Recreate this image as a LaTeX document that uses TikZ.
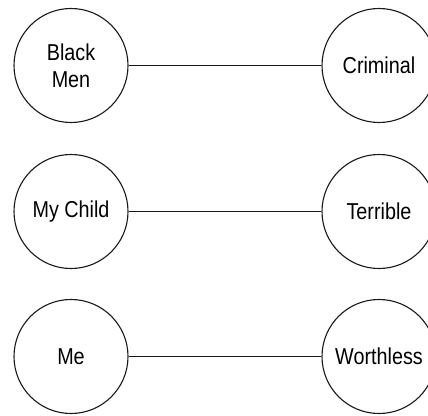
\documentclass[tikz,border=0pt]{standalone}
\usepackage{fontspec}
\setmainfont{Liberation Sans}[FakeStretch=0.86]
\begin{document}
\begin{tikzpicture}[x=1pt,y=-1pt,
  concept/.style={draw=black!90, line width=1.1pt, circle, minimum size=114pt, inner sep=0pt, align=center, font=\fontsize{23}{27}\selectfont, text=black},
  link/.style={draw=black!90, line width=1.1pt}]
\useasboundingbox (0,0) rectangle (428,415);
\node[concept] (bm) at (71,65.5) {Black\\Men};
\node[concept] (cr) at (379,65.5) {Criminal};
\node[concept] (mc) at (71,211.5) {My Child};
\node[concept] (te) at (379,211.5) {Terrible};
\node[concept] (me) at (71,356.5) {Me};
\node[concept] (wo) at (379,356.5) {Worthless};
\draw[link] (bm) -- (cr);
\draw[link] (mc) -- (te);
\draw[link] (me) -- (wo);
\end{tikzpicture}
\end{document}
